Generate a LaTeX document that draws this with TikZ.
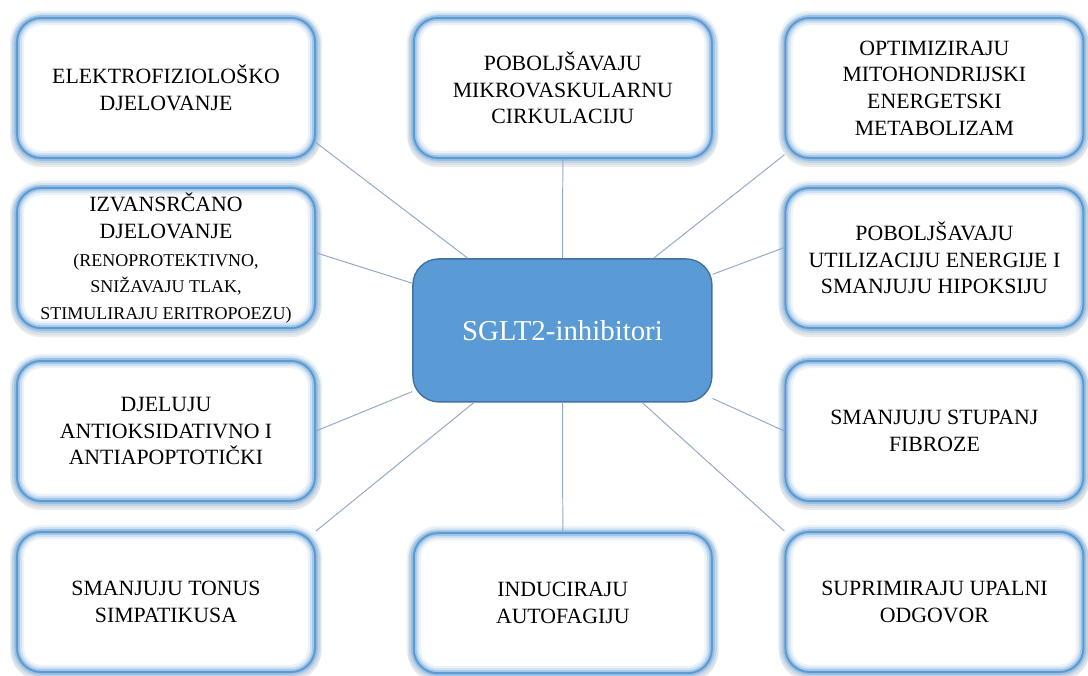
\documentclass[tikz,border=0pt]{standalone}
\usepackage{fontspec}
\setmainfont{Liberation Serif}

\definecolor{hubblue}{RGB}{91,155,213}
\definecolor{hubedge}{RGB}{65,113,156}
\definecolor{glowblue}{RGB}{91,155,213}
\definecolor{linkgray}{RGB}{146,170,200}

\newcommand{\boxtxt}{\fontsize{15.5}{19}\selectfont}
\newcommand{\smalltxt}{\fontsize{12.8}{16.8}\selectfont}
\newcommand{\hubtxt}{\fontsize{20.5}{24}\selectfont}

\begin{document}
\begin{tikzpicture}[
  effect/.style={rectangle, rounded corners=.6cm, minimum width=7.45cm, minimum height=3.5cm,
    align=center, font=\boxtxt,
    preaction={draw=black, opacity=.07, line width=.3cm, transform canvas={yshift=-.08cm}},
    preaction={fill=white},
    preaction={draw=glowblue, opacity=.12, line width=.36cm},
    preaction={draw=glowblue, opacity=.2, line width=.24cm},
    preaction={draw=glowblue, opacity=.35, line width=.14cm},
    draw=glowblue, line width=.05cm},
  hub/.style={rectangle, rounded corners=.65cm, minimum width=7.475cm, minimum height=3.575cm,
    fill=hubblue, draw=hubedge, line width=1pt, text=white, font=\hubtxt},
  link/.style={draw=linkgray, line width=.7pt}]

\useasboundingbox (0,0) rectangle (27.2,-16.875);

\node [hub] (sglt) at (14.06,-8.26) {SGLT2-inhibitori};

% left column
\node [effect] (elektro) at (4.15,-2.2) {ELEKTROFIZIOLOŠKO\\DJELOVANJE};
\node [effect] (izvan) at (4.15,-6.45) {IZVANSRČANO\\DJELOVANJE\\[1pt]
  \smalltxt (RENOPROTEKTIVNO,\\\smalltxt SNIŽAVAJU TLAK,\\\smalltxt STIMULIRAJU ERITROPOEZU)};
\node [effect] (antiox) at (4.15,-10.775) {DJELUJU\\ANTIOKSIDATIVNO I\\ANTIAPOPTOTIČKI};
\node [effect] (tonus) at (4.15,-15.05) {SMANJUJU TONUS\\SIMPATIKUSA};

% middle column
\node [effect] (mikro) at (14.07,-2.2) {POBOLJŠAVAJU\\MIKROVASKULARNU\\CIRKULACIJU};
\node [effect] (autof) at (14.07,-15.08) {INDUCIRAJU\\AUTOFAGIJU};

% right column
\node [effect] (mito) at (23.36,-2.2) {OPTIMIZIRAJU\\MITOHONDRIJSKI\\ENERGETSKI\\METABOLIZAM};
\node [effect] (energ) at (23.36,-6.45) {POBOLJŠAVAJU\\UTILIZACIJU ENERGIJE I\\SMANJUJU HIPOKSIJU};
\node [effect] (fibro) at (23.36,-10.775) {SMANJUJU STUPANJ\\FIBROZE};
\node [effect] (upala) at (23.36,-15.05) {SUPRIMIRAJU UPALNI\\ODGOVOR};

% spokes
\draw [link] (sglt) -- (elektro.-20);
\draw [link] (sglt) -- (izvan.2);
\draw [link] (sglt) -- (antiox.east);
\draw [link] (sglt) -- (tonus.north east);
\draw [link] (sglt) -- (mikro.south);
\draw [link] (sglt) -- (autof.north);
\draw [link] (sglt) -- (mito.204);
\draw [link] (sglt) -- (energ.176);
\draw [link] (sglt) -- (fibro.west);
\draw [link] (sglt) -- (upala.north west);
\end{tikzpicture}
\end{document}
